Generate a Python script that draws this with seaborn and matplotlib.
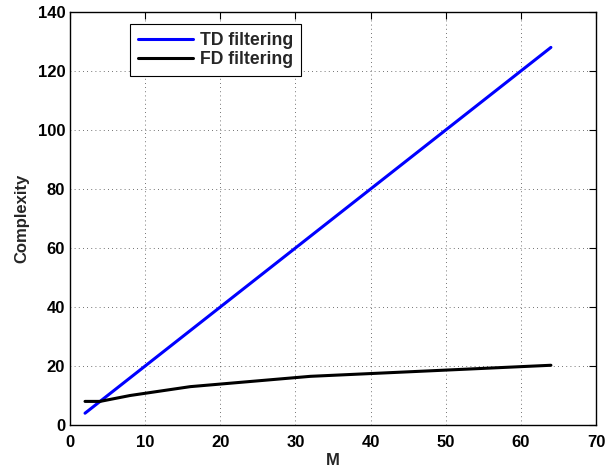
import matplotlib
matplotlib.use("Agg")
import matplotlib.pyplot as plt
import seaborn as sns
import pandas as pd

M_td = [2, 64]
td_vals = [4, 128]
M_fd = [2, 4, 8, 16, 32, 64]
fd_vals = [8, 8, 10, 13, 16.5, 20.25]
x_ticks = [0, 10, 20, 30, 40, 50, 60, 70]
y_ticks = [0, 20, 40, 60, 80, 100, 120, 140]

sns.set_style("white")
plt.rcParams['font.family'] = ['Liberation Sans', 'DejaVu Sans']
plt.rcParams['font.weight'] = 'bold'

fig = plt.figure(figsize=(6.05, 4.75), dpi=100)
ax = fig.add_axes([70 / 605, 50 / 475, 526 / 605, 413 / 475])

df_td = pd.DataFrame({"M": M_td, "Complexity": td_vals})
df_fd = pd.DataFrame({"M": M_fd, "Complexity": fd_vals})
sns.lineplot(data=df_td, x="M", y="Complexity", ax=ax, color="#0000ff", linewidth=2.2, label="TD filtering")
sns.lineplot(data=df_fd, x="M", y="Complexity", ax=ax, color="black", linewidth=2.2, label="FD filtering")

ax.set_xlim(0, 70)
ax.set_ylim(0, 140)
ax.set_xticks(x_ticks)
ax.set_yticks(y_ticks)
ax.set_xticklabels([str(t) for t in x_ticks], fontweight='bold', fontsize=12)
ax.set_yticklabels([str(t) for t in y_ticks], fontweight='bold', fontsize=12)
ax.set_xlabel("M", fontweight='bold', fontsize=12, labelpad=2.5)
ax.set_ylabel("Complexity", fontweight='bold', fontsize=12, labelpad=6)
ax.grid(True, linestyle=(0, (1, 4)), color='#444444', linewidth=0.6)
ax.tick_params(direction='in', length=5, width=0.8, top=True, right=True,
               colors='black', labelcolor='black')
ax.tick_params(axis='x', pad=7)
ax.tick_params(axis='y', pad=3.5)
for s in ax.spines.values():
    s.set_color('black')
    s.set_linewidth(1.0)
    s.set_visible(True)

leg = ax.legend(loc='upper left', bbox_to_anchor=(0.114, 0.97), fancybox=False,
                frameon=True, edgecolor='black', fontsize=12.7, borderpad=0.45,
                handlelength=3.1, labelspacing=0.12, handletextpad=0.4, borderaxespad=0)
leg.get_frame().set_linewidth(0.8)
leg.get_frame().set_alpha(1)
for t in leg.get_texts():
    t.set_fontweight('bold')

fig.savefig("out.png", dpi=100)
